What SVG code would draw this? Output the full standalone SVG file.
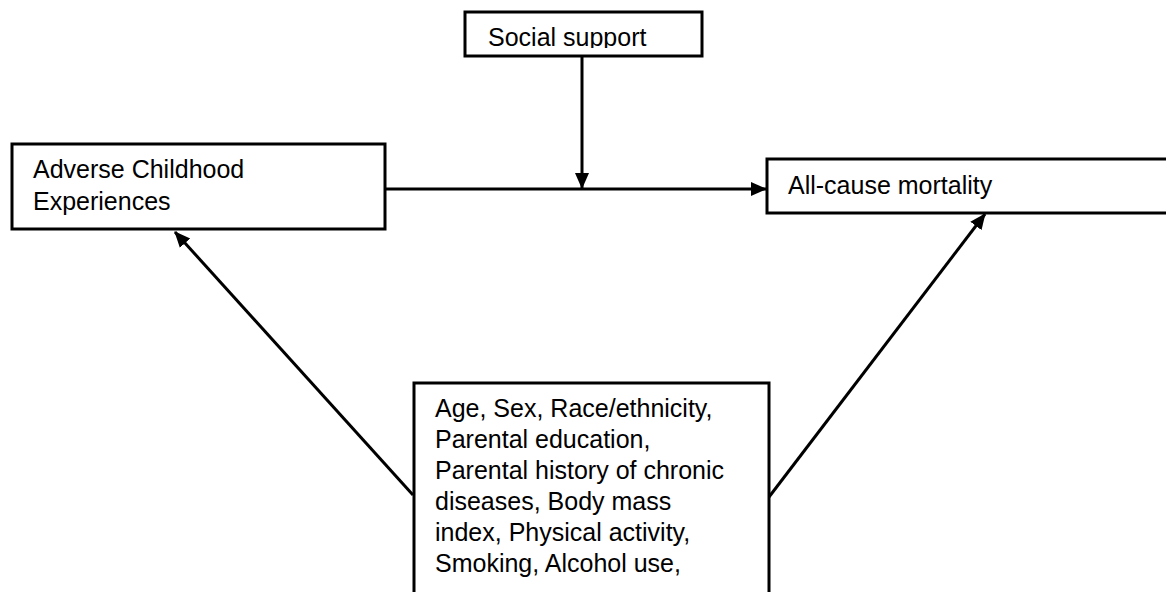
<svg xmlns="http://www.w3.org/2000/svg" width="1166" height="592" viewBox="0 0 1166 592">
  <style>
    .box { fill: #ffffff; stroke: #000000; stroke-width: 3; }
    .lbl { font-family: "Liberation Sans", Arial, sans-serif; font-size: 25px; fill: #000000; }
    .conn { stroke: #000000; stroke-width: 3; fill: none; }
  </style>
  <defs>
    <marker id="arr" markerUnits="userSpaceOnUse" markerWidth="16" markerHeight="16" viewBox="0 0 16 16" refX="15" refY="8" orient="auto">
      <path d="M0,1 L16,8 L0,15 Z" fill="#000000"/>
    </marker>
    <clipPath id="clipSocial">
      <rect x="465" y="12" width="237" height="36"/>
    </clipPath>
  </defs>
  <rect width="1166" height="592" fill="#ffffff"/>

  <g id="connectors">
    <line class="conn" x1="385" y1="189" x2="766" y2="189" marker-end="url(#arr)"/>
    <line class="conn" x1="582" y1="55" x2="582" y2="188" marker-end="url(#arr)"/>
    <line class="conn" x1="413" y1="495" x2="175" y2="232" marker-end="url(#arr)"/>
    <line class="conn" x1="769" y1="497" x2="985" y2="214" marker-end="url(#arr)"/>
  </g>

  <g id="social-support">
    <rect class="box" x="465" y="12" width="237" height="44"/>
    <text class="lbl" x="488" y="46" clip-path="url(#clipSocial)">Social support</text>
  </g>

  <g id="aces">
    <rect class="box" x="12" y="144" width="373" height="85"/>
    <text class="lbl" x="33" y="178">Adverse Childhood</text>
    <text class="lbl" x="33" y="210">Experiences</text>
  </g>

  <g id="mortality">
    <rect class="box" x="767" y="159" width="420" height="54"/>
    <text class="lbl" x="788" y="194">All-cause mortality</text>
  </g>

  <g id="covariates">
    <rect class="box" x="414" y="383" width="355" height="230"/>
    <text class="lbl" x="435" y="417">Age, Sex, Race/ethnicity,</text>
    <text class="lbl" x="435" y="448">Parental education,</text>
    <text class="lbl" x="435" y="479">Parental history of chronic</text>
    <text class="lbl" x="435" y="510">diseases, Body mass</text>
    <text class="lbl" x="435" y="541">index, Physical activity,</text>
    <text class="lbl" x="435" y="572">Smoking, Alcohol use,</text>
  </g>
</svg>
